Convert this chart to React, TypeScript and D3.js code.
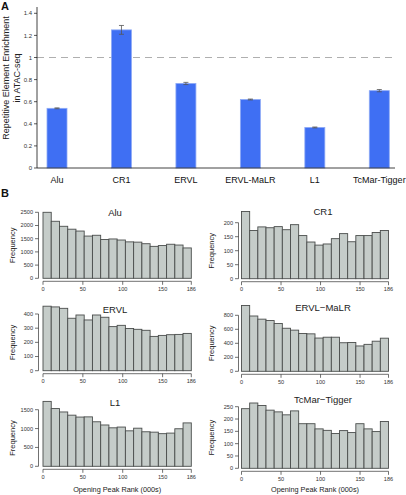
import React from "react";
import * as d3 from "d3";

// ---------- Panel A data ----------
const categories = ["Alu", "CR1", "ERVL", "ERVL-MaLR", "L1", "TcMar-Tigger"];
const enrichment = [0.54, 1.25, 0.765, 0.62, 0.367, 0.70];
const enrichmentErr = [0.004, 0.04, 0.01, 0.004, 0.004, 0.01];
const enrichmentTicks = [0, 0.2, 0.4, 0.6, 0.8, 1, 1.2, 1.4];
const referenceLine = 1;

// ---------- Panel B data ----------
const rankMax = 186;
const rankTicks = [0, 50, 100, 150, 186];
const histTitles = ["Alu", "CR1", "ERVL", "ERVL\u2212MaLR", "L1", "TcMar\u2212Tigger"];
const aluCounts = [2500, 2160, 1970, 1860, 1790, 1600, 1630, 1470, 1490, 1450, 1380, 1370, 1310, 1210, 1240, 1290, 1260, 1150];
const cr1Counts = [240, 172, 185, 182, 186, 175, 193, 154, 131, 120, 124, 143, 161, 132, 154, 154, 165, 172];
const ervlCounts = [455, 450, 440, 370, 393, 358, 393, 377, 311, 320, 298, 292, 285, 242, 249, 254, 256, 263];
const ervlMalrCounts = [940, 790, 745, 725, 683, 615, 588, 540, 535, 475, 487, 487, 408, 412, 362, 385, 430, 473];
const l1Counts = [1720, 1530, 1440, 1355, 1305, 1310, 1180, 1095, 1020, 1040, 940, 1010, 915, 905, 865, 880, 995, 1150];
const tcmarCounts = [242, 265, 255, 236, 229, 217, 233, 181, 181, 160, 154, 141, 153, 145, 181, 160, 149, 190];
const aluTicks = [0, 500, 1000, 1500, 2000, 2500];
const cr1Ticks = [0, 50, 100, 150, 200];
const ervlTicks = [0, 100, 200, 300, 400];
const ervlMalrTicks = [0, 200, 400, 600, 800];
const l1Ticks = [0, 500, 1000, 1500];
const tcmarTicks = [0, 50, 100, 150, 200, 250];

const FONT = "'Liberation Sans', Arial, Helvetica, sans-serif";

type HistLayout = { col: number; y0: number; topPx: number; titleY: number };

const histData = [aluCounts, cr1Counts, ervlCounts, ervlMalrCounts, l1Counts, tcmarCounts];
const histTicks = [aluTicks, cr1Ticks, ervlTicks, ervlMalrTicks, l1Ticks, tcmarTicks];
const histLayout: HistLayout[] = [
  { col: 0, y0: 278.3, topPx: 212.3, titleY: 216 },
  { col: 1, y0: 278.7, topPx: 222.7, titleY: 215 },
  { col: 0, y0: 370.7, topPx: 314, titleY: 313 },
  { col: 1, y0: 371.3, topPx: 315.3, titleY: 311 },
  { col: 0, y0: 466.3, topPx: 409.7, titleY: 406 },
  { col: 1, y0: 468.3, topPx: 406.7, titleY: 403 },
];
const colLayout = [
  { axisX: 38.5, x0: 43, x1: 191.3, titleX: 115, ylabX: 15 },
  { axisX: 238.5, x0: 241.5, x1: 388.5, titleX: 323, ylabX: 214 },
];

function Histogram({ idx }: { idx: number }) {
  const counts = histData[idx];
  const ticks = histTicks[idx];
  const L = histLayout[idx];
  const C = colLayout[L.col];
  const topTick = ticks[ticks.length - 1];
  const y = d3.scaleLinear().domain([0, topTick]).range([L.y0, L.topPx]);
  const x = d3.scaleLinear().domain([0, rankMax]).range([C.x0, C.x1]);
  const binW = rankMax / counts.length;
  const axisY = L.y0 + 3;
  return (
    <g>
      {counts.map((c, i) => (
        <rect
          key={i}
          x={x(i * binW)}
          y={y(c)}
          width={x((i + 1) * binW) - x(i * binW)}
          height={y(0) - y(c)}
          fill="#c5ccc9"
          stroke="#4a4d4c"
          strokeWidth={0.9}
        />
      ))}
      {/* y axis */}
      <line x1={C.axisX} x2={C.axisX} y1={y(0)} y2={y(topTick)} stroke="#333" strokeWidth={0.7} />
      {ticks.map((t) => (
        <g key={t}>
          <line x1={C.axisX - 3.5} x2={C.axisX} y1={y(t)} y2={y(t)} stroke="#333" strokeWidth={0.7} />
          <text x={C.axisX - 5.5} y={y(t)} dy="0.35em" textAnchor="end" fontSize={5.6} fill="#333" fontFamily={FONT}>
            {t}
          </text>
        </g>
      ))}
      {/* x axis */}
      <line x1={x(0)} x2={x(rankMax)} y1={axisY} y2={axisY} stroke="#333" strokeWidth={0.7} />
      {rankTicks.map((t) => (
        <g key={t}>
          <line x1={x(t)} x2={x(t)} y1={axisY} y2={axisY + 3.5} stroke="#333" strokeWidth={0.7} />
          <text x={x(t)} y={axisY + 9.5} textAnchor="middle" fontSize={5.6} fill="#333" fontFamily={FONT}>
            {t}
          </text>
        </g>
      ))}
      <text x={C.titleX} y={L.titleY} textAnchor="middle" fontSize={9.5} fill="#222" fontFamily={FONT}>
        {histTitles[idx]}
      </text>
      <text
        transform={`translate(${C.ylabX},${(y(0) + y(topTick)) / 2}) rotate(-90)`}
        textAnchor="middle"
        fontSize={7.5}
        fill="#222"
        fontFamily={FONT}
      >
        Frequency
      </text>
      {idx >= 4 && (
        <text x={(x(0) + x(rankMax)) / 2} y={492} textAnchor="middle" fontSize={7.3} fill="#222" fontFamily={FONT}>
          Opening Peak Rank (000s)
        </text>
      )}
    </g>
  );
}

export default function App() {
  const yA = d3.scaleLinear().domain([0, 1.4]).range([168, 13.3]);
  const xA = d3.scalePoint<string>().domain(categories).range([57, 379.3]);
  const barW = 20;
  const axisXA = 37;
  return (
    <svg width={406} height={495} style={{ position: "absolute", left: 0, top: 0 }}>
      <rect width={406} height={495} fill="#fff" />
      {/* Panel A */}
      <text x={1} y={10} fontSize={11} fontWeight="bold" fontFamily={FONT} fill="#111">A</text>
      <line x1={axisXA} x2={395} y1={yA(referenceLine)} y2={yA(referenceLine)} stroke="#9a9a9a" strokeWidth={0.8} strokeDasharray="7,5" />
      {categories.map((c, i) => {
        const cx = xA(c)!;
        const v = enrichment[i];
        const e = enrichmentErr[i];
        return (
          <g key={c}>
            <rect x={cx - barW / 2} y={yA(v)} width={barW} height={yA(0) - yA(v)} fill="#3f6ff3" stroke="#8eaaf6" strokeWidth={0.8} />
            <line x1={cx} x2={cx} y1={yA(v + e)} y2={yA(v - e)} stroke="#555" strokeWidth={0.8} />
            <line x1={cx - 2.5} x2={cx + 2.5} y1={yA(v + e)} y2={yA(v + e)} stroke="#555" strokeWidth={0.8} />
            <line x1={cx - 2.5} x2={cx + 2.5} y1={yA(v - e)} y2={yA(v - e)} stroke="#555" strokeWidth={0.8} />
            <text x={cx} y={183} textAnchor="middle" fontSize={9} fill="#111" fontFamily={FONT}>{c}</text>
          </g>
        );
      })}
      <line x1={axisXA} x2={axisXA} y1={168} y2={7} stroke="#111" strokeWidth={0.8} />
      <line x1={axisXA} x2={395} y1={168} y2={168} stroke="#111" strokeWidth={0.8} />
      {enrichmentTicks.map((t) => (
        <g key={t}>
          <line x1={axisXA - 3} x2={axisXA} y1={yA(t)} y2={yA(t)} stroke="#111" strokeWidth={0.7} />
          <text x={axisXA - 5} y={yA(t)} dy="0.35em" textAnchor="end" fontSize={6} fill="#333" fontFamily={FONT}>
            {t}
          </text>
        </g>
      ))}
      <text transform="translate(9,78) rotate(-90)" textAnchor="middle" fontSize={9} fill="#222" fontFamily={FONT}>
        Repetitive Element Enrichment
      </text>
      <text transform="translate(20,78) rotate(-90)" textAnchor="middle" fontSize={9} fill="#222" fontFamily={FONT}>
        in ATAC-seq
      </text>
      {/* Panel B */}
      <text x={1} y={197} fontSize={11} fontWeight="bold" fontFamily={FONT} fill="#111">B</text>
      {histData.map((_, i) => (
        <Histogram key={i} idx={i} />
      ))}
    </svg>
  );
}
